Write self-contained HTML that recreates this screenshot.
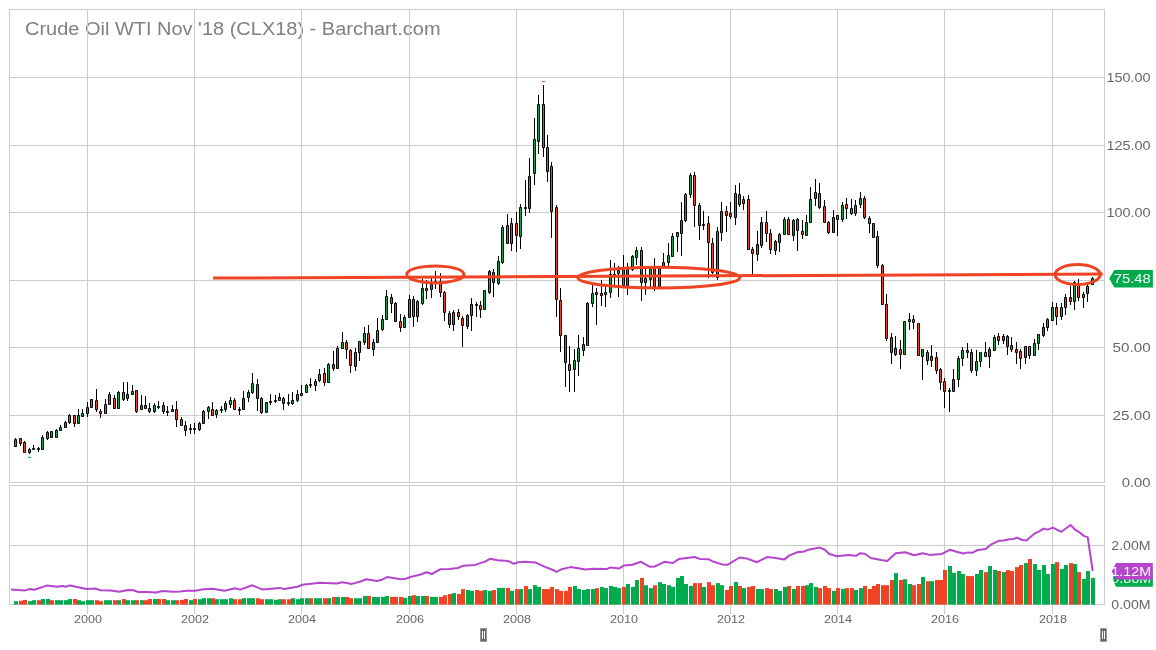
<!DOCTYPE html>
<html><head><meta charset="utf-8"><style>
html,body{margin:0;padding:0;background:#fff;width:1156px;height:650px;overflow:hidden}
svg text{font-family:"Liberation Sans",sans-serif} svg{will-change:transform}
</style></head><body>
<svg width="1156" height="650" viewBox="0 0 1156 650" style="position:absolute;left:0;top:0"><rect width="1156" height="650" fill="#fff"/><text x="25" y="35" font-size="18" fill="#808080" textLength="415.6" lengthAdjust="spacingAndGlyphs">Crude Oil WTI Nov '18 (CLX18) - Barchart.com</text><path d="M9 77.5H1105 M9 145.5H1105 M9 212.5H1105 M9 280.5H1105 M9 347.5H1105 M9 415.5H1105 M87.5 9V482 M87.5 485V614 M194.5 9V482 M194.5 485V614 M301.5 9V482 M301.5 485V614 M409.5 9V482 M409.5 485V614 M516.5 9V482 M516.5 485V614 M623.5 9V482 M623.5 485V614 M730.5 9V482 M730.5 485V614 M837.5 9V482 M837.5 485V614 M944.5 9V482 M944.5 485V614 M1052.5 9V482 M1052.5 485V614 M9.5 9V482.5M9 9.5H1105M1104.5 9V482.5M9 482.5H1105 M9.5 485V604.5M9 485.5H1105M1104.5 485V604.5M9 604.5H1105 M9 545.5H1105" stroke="#cccccc" stroke-width="1" fill="none"/><text x="1150.6" y="81.9" font-size="12.4" fill="#666" text-anchor="end" textLength="44.2" lengthAdjust="spacingAndGlyphs">150.00</text><text x="1150.6" y="149.9" font-size="12.4" fill="#666" text-anchor="end" textLength="44.2" lengthAdjust="spacingAndGlyphs">125.00</text><text x="1150.6" y="216.9" font-size="12.4" fill="#666" text-anchor="end" textLength="44.2" lengthAdjust="spacingAndGlyphs">100.00</text><text x="1150.6" y="284.9" font-size="12.4" fill="#666" text-anchor="end" textLength="38.0" lengthAdjust="spacingAndGlyphs">75.00</text><text x="1150.6" y="351.9" font-size="12.4" fill="#666" text-anchor="end" textLength="38.0" lengthAdjust="spacingAndGlyphs">50.00</text><text x="1150.6" y="419.9" font-size="12.4" fill="#666" text-anchor="end" textLength="38.0" lengthAdjust="spacingAndGlyphs">25.00</text><text x="1150.6" y="486.9" font-size="12.4" fill="#666" text-anchor="end" textLength="28.9" lengthAdjust="spacingAndGlyphs">0.00</text><text x="1150.6" y="549.8" font-size="12.4" fill="#666" text-anchor="end" textLength="39.3" lengthAdjust="spacingAndGlyphs">2.00M</text><text x="1150.6" y="608.8" font-size="12.4" fill="#666" text-anchor="end" textLength="39.3" lengthAdjust="spacingAndGlyphs">0.00M</text><text x="88" y="622.9" font-size="11" fill="#666" text-anchor="middle" textLength="28.1" lengthAdjust="spacingAndGlyphs">2000</text><text x="195" y="622.9" font-size="11" fill="#666" text-anchor="middle" textLength="28.1" lengthAdjust="spacingAndGlyphs">2002</text><text x="302" y="622.9" font-size="11" fill="#666" text-anchor="middle" textLength="28.1" lengthAdjust="spacingAndGlyphs">2004</text><text x="410" y="622.9" font-size="11" fill="#666" text-anchor="middle" textLength="28.1" lengthAdjust="spacingAndGlyphs">2006</text><text x="517" y="622.9" font-size="11" fill="#666" text-anchor="middle" textLength="28.1" lengthAdjust="spacingAndGlyphs">2008</text><text x="624" y="622.9" font-size="11" fill="#666" text-anchor="middle" textLength="28.1" lengthAdjust="spacingAndGlyphs">2010</text><text x="731" y="622.9" font-size="11" fill="#666" text-anchor="middle" textLength="28.1" lengthAdjust="spacingAndGlyphs">2012</text><text x="838" y="622.9" font-size="11" fill="#666" text-anchor="middle" textLength="28.1" lengthAdjust="spacingAndGlyphs">2014</text><text x="945" y="622.9" font-size="11" fill="#666" text-anchor="middle" textLength="28.1" lengthAdjust="spacingAndGlyphs">2016</text><text x="1053" y="622.9" font-size="11" fill="#666" text-anchor="middle" textLength="28.1" lengthAdjust="spacingAndGlyphs">2018</text><rect x="14" y="601.2" width="4" height="3.4" fill="#00ab4e"/><rect x="19" y="600.7" width="4" height="3.9" fill="#ee4423"/><rect x="23" y="599.9" width="4" height="4.7" fill="#ee4423"/><rect x="28" y="601.2" width="4" height="3.4" fill="#00ab4e"/><rect x="32" y="600.2" width="4" height="4.4" fill="#00ab4e"/><rect x="37" y="600.2" width="4" height="4.4" fill="#ee4423"/><rect x="41" y="599.0" width="4" height="5.6" fill="#00ab4e"/><rect x="46" y="599.0" width="4" height="5.6" fill="#00ab4e"/><rect x="50" y="600.2" width="4" height="4.4" fill="#ee4423"/><rect x="55" y="600.2" width="4" height="4.4" fill="#00ab4e"/><rect x="59" y="600.2" width="4" height="4.4" fill="#00ab4e"/><rect x="64" y="600.2" width="4" height="4.4" fill="#00ab4e"/><rect x="68" y="599.0" width="4" height="5.6" fill="#00ab4e"/><rect x="73" y="599.0" width="4" height="5.6" fill="#ee4423"/><rect x="77" y="600.2" width="4" height="4.4" fill="#00ab4e"/><rect x="81" y="601.2" width="4" height="3.4" fill="#00ab4e"/><rect x="86" y="600.2" width="4" height="4.4" fill="#00ab4e"/><rect x="90" y="600.2" width="4" height="4.4" fill="#00ab4e"/><rect x="95" y="600.2" width="4" height="4.4" fill="#ee4423"/><rect x="99" y="601.2" width="4" height="3.4" fill="#ee4423"/><rect x="104" y="600.2" width="4" height="4.4" fill="#00ab4e"/><rect x="108" y="600.2" width="4" height="4.4" fill="#00ab4e"/><rect x="113" y="600.2" width="4" height="4.4" fill="#ee4423"/><rect x="117" y="600.2" width="4" height="4.4" fill="#00ab4e"/><rect x="122" y="599.0" width="4" height="5.6" fill="#ee4423"/><rect x="126" y="600.2" width="4" height="4.4" fill="#00ab4e"/><rect x="131" y="600.2" width="4" height="4.4" fill="#00ab4e"/><rect x="135" y="600.2" width="4" height="4.4" fill="#ee4423"/><rect x="140" y="600.2" width="4" height="4.4" fill="#00ab4e"/><rect x="144" y="600.2" width="4" height="4.4" fill="#ee4423"/><rect x="148" y="599.0" width="4" height="5.6" fill="#ee4423"/><rect x="153" y="599.0" width="4" height="5.6" fill="#00ab4e"/><rect x="157" y="599.0" width="4" height="5.6" fill="#ee4423"/><rect x="162" y="599.0" width="4" height="5.6" fill="#ee4423"/><rect x="166" y="600.2" width="4" height="4.4" fill="#00ab4e"/><rect x="171" y="600.2" width="4" height="4.4" fill="#00ab4e"/><rect x="175" y="600.2" width="4" height="4.4" fill="#ee4423"/><rect x="180" y="599.9" width="4" height="4.7" fill="#ee4423"/><rect x="184" y="599.0" width="4" height="5.6" fill="#ee4423"/><rect x="189" y="600.2" width="4" height="4.4" fill="#00ab4e"/><rect x="193" y="599.0" width="4" height="5.6" fill="#ee4423"/><rect x="198" y="599.2" width="4" height="5.4" fill="#00ab4e"/><rect x="202" y="598.2" width="4" height="6.4" fill="#00ab4e"/><rect x="207" y="598.2" width="4" height="6.4" fill="#00ab4e"/><rect x="211" y="598.2" width="4" height="6.4" fill="#ee4423"/><rect x="215" y="599.2" width="4" height="5.4" fill="#00ab4e"/><rect x="220" y="599.2" width="4" height="5.4" fill="#00ab4e"/><rect x="224" y="599.2" width="4" height="5.4" fill="#00ab4e"/><rect x="229" y="598.2" width="4" height="6.4" fill="#00ab4e"/><rect x="233" y="599.2" width="4" height="5.4" fill="#ee4423"/><rect x="238" y="599.2" width="4" height="5.4" fill="#ee4423"/><rect x="242" y="598.2" width="4" height="6.4" fill="#00ab4e"/><rect x="247" y="598.2" width="4" height="6.4" fill="#00ab4e"/><rect x="251" y="598.2" width="4" height="6.4" fill="#00ab4e"/><rect x="256" y="598.2" width="4" height="6.4" fill="#ee4423"/><rect x="260" y="599.2" width="4" height="5.4" fill="#ee4423"/><rect x="265" y="599.2" width="4" height="5.4" fill="#00ab4e"/><rect x="269" y="599.2" width="4" height="5.4" fill="#00ab4e"/><rect x="274" y="599.8" width="4" height="4.8" fill="#00ab4e"/><rect x="278" y="599.2" width="4" height="5.4" fill="#00ab4e"/><rect x="282" y="599.2" width="4" height="5.4" fill="#ee4423"/><rect x="287" y="599.2" width="4" height="5.4" fill="#ee4423"/><rect x="291" y="598.2" width="4" height="6.4" fill="#00ab4e"/><rect x="296" y="599.2" width="4" height="5.4" fill="#00ab4e"/><rect x="300" y="598.2" width="4" height="6.4" fill="#00ab4e"/><rect x="305" y="598.2" width="4" height="6.4" fill="#00ab4e"/><rect x="309" y="598.2" width="4" height="6.4" fill="#ee4423"/><rect x="314" y="598.2" width="4" height="6.4" fill="#00ab4e"/><rect x="318" y="598.2" width="4" height="6.4" fill="#00ab4e"/><rect x="323" y="598.2" width="4" height="6.4" fill="#ee4423"/><rect x="327" y="598.2" width="4" height="6.4" fill="#00ab4e"/><rect x="332" y="597.0" width="4" height="7.6" fill="#ee4423"/><rect x="336" y="597.0" width="4" height="7.6" fill="#00ab4e"/><rect x="341" y="597.0" width="4" height="7.6" fill="#00ab4e"/><rect x="345" y="597.0" width="4" height="7.6" fill="#ee4423"/><rect x="349" y="598.2" width="4" height="6.4" fill="#ee4423"/><rect x="354" y="598.2" width="4" height="6.4" fill="#00ab4e"/><rect x="358" y="598.2" width="4" height="6.4" fill="#00ab4e"/><rect x="363" y="595.9" width="4" height="8.7" fill="#00ab4e"/><rect x="367" y="595.9" width="4" height="8.7" fill="#ee4423"/><rect x="372" y="597.0" width="4" height="7.6" fill="#00ab4e"/><rect x="376" y="597.0" width="4" height="7.6" fill="#00ab4e"/><rect x="381" y="596.9" width="4" height="7.7" fill="#00ab4e"/><rect x="385" y="596.0" width="4" height="8.6" fill="#00ab4e"/><rect x="390" y="596.9" width="4" height="7.7" fill="#ee4423"/><rect x="394" y="596.9" width="4" height="7.7" fill="#ee4423"/><rect x="399" y="596.9" width="4" height="7.7" fill="#ee4423"/><rect x="403" y="597.8" width="4" height="6.8" fill="#00ab4e"/><rect x="408" y="596.0" width="4" height="8.6" fill="#00ab4e"/><rect x="412" y="595.2" width="4" height="9.4" fill="#ee4423"/><rect x="416" y="596.0" width="4" height="8.6" fill="#00ab4e"/><rect x="421" y="596.0" width="4" height="8.6" fill="#00ab4e"/><rect x="425" y="596.0" width="4" height="8.6" fill="#ee4423"/><rect x="430" y="596.9" width="4" height="7.7" fill="#00ab4e"/><rect x="434" y="596.9" width="4" height="7.7" fill="#00ab4e"/><rect x="439" y="596.9" width="4" height="7.7" fill="#ee4423"/><rect x="443" y="595.2" width="4" height="9.4" fill="#ee4423"/><rect x="448" y="594.0" width="4" height="10.6" fill="#ee4423"/><rect x="452" y="593.1" width="4" height="11.5" fill="#00ab4e"/><rect x="457" y="594.0" width="4" height="10.6" fill="#ee4423"/><rect x="461" y="589.1" width="4" height="15.5" fill="#ee4423"/><rect x="466" y="590.0" width="4" height="14.6" fill="#00ab4e"/><rect x="470" y="590.8" width="4" height="13.8" fill="#00ab4e"/><rect x="475" y="590.0" width="4" height="14.6" fill="#ee4423"/><rect x="479" y="590.8" width="4" height="13.8" fill="#ee4423"/><rect x="483" y="590.0" width="4" height="14.6" fill="#00ab4e"/><rect x="488" y="590.8" width="4" height="13.8" fill="#00ab4e"/><rect x="492" y="590.0" width="4" height="14.6" fill="#ee4423"/><rect x="497" y="587.9" width="4" height="16.7" fill="#00ab4e"/><rect x="501" y="587.9" width="4" height="16.7" fill="#00ab4e"/><rect x="506" y="587.9" width="4" height="16.7" fill="#ee4423"/><rect x="510" y="590.8" width="4" height="13.8" fill="#00ab4e"/><rect x="515" y="589.1" width="4" height="15.5" fill="#ee4423"/><rect x="519" y="589.1" width="4" height="15.5" fill="#00ab4e"/><rect x="524" y="586.0" width="4" height="18.6" fill="#ee4423"/><rect x="528" y="589.1" width="4" height="15.5" fill="#00ab4e"/><rect x="533" y="585.1" width="4" height="19.5" fill="#00ab4e"/><rect x="537" y="586.9" width="4" height="17.7" fill="#00ab4e"/><rect x="542" y="589.1" width="4" height="15.5" fill="#ee4423"/><rect x="546" y="589.1" width="4" height="15.5" fill="#ee4423"/><rect x="550" y="586.9" width="4" height="17.7" fill="#ee4423"/><rect x="555" y="589.1" width="4" height="15.5" fill="#ee4423"/><rect x="559" y="590.8" width="4" height="13.8" fill="#ee4423"/><rect x="564" y="590.8" width="4" height="13.8" fill="#ee4423"/><rect x="568" y="586.9" width="4" height="17.7" fill="#ee4423"/><rect x="573" y="586.0" width="4" height="18.6" fill="#00ab4e"/><rect x="577" y="589.0" width="4" height="15.6" fill="#00ab4e"/><rect x="582" y="590.0" width="4" height="14.6" fill="#00ab4e"/><rect x="586" y="589.0" width="4" height="15.6" fill="#00ab4e"/><rect x="591" y="589.0" width="4" height="15.6" fill="#00ab4e"/><rect x="595" y="588.1" width="4" height="16.5" fill="#ee4423"/><rect x="600" y="586.9" width="4" height="17.7" fill="#00ab4e"/><rect x="604" y="588.1" width="4" height="16.5" fill="#00ab4e"/><rect x="609" y="586.0" width="4" height="18.6" fill="#00ab4e"/><rect x="613" y="586.9" width="4" height="17.7" fill="#00ab4e"/><rect x="617" y="588.1" width="4" height="16.5" fill="#00ab4e"/><rect x="622" y="586.9" width="4" height="17.7" fill="#ee4423"/><rect x="626" y="584.0" width="4" height="20.6" fill="#00ab4e"/><rect x="631" y="586.9" width="4" height="17.7" fill="#00ab4e"/><rect x="635" y="580.0" width="4" height="24.6" fill="#00ab4e"/><rect x="640" y="577.9" width="4" height="26.7" fill="#ee4423"/><rect x="644" y="585.2" width="4" height="19.4" fill="#00ab4e"/><rect x="649" y="588.1" width="4" height="16.5" fill="#00ab4e"/><rect x="653" y="585.2" width="4" height="19.4" fill="#ee4423"/><rect x="658" y="582.1" width="4" height="22.5" fill="#00ab4e"/><rect x="662" y="584.0" width="4" height="20.6" fill="#00ab4e"/><rect x="667" y="585.2" width="4" height="19.4" fill="#00ab4e"/><rect x="671" y="586.9" width="4" height="17.7" fill="#00ab4e"/><rect x="676" y="577.9" width="4" height="26.7" fill="#00ab4e"/><rect x="680" y="576.0" width="4" height="28.6" fill="#00ab4e"/><rect x="684" y="584.0" width="4" height="20.6" fill="#00ab4e"/><rect x="689" y="586.0" width="4" height="18.6" fill="#00ab4e"/><rect x="693" y="583.1" width="4" height="21.5" fill="#ee4423"/><rect x="698" y="583.1" width="4" height="21.5" fill="#ee4423"/><rect x="702" y="586.9" width="4" height="17.7" fill="#00ab4e"/><rect x="707" y="582.1" width="4" height="22.5" fill="#ee4423"/><rect x="711" y="585.2" width="4" height="19.4" fill="#ee4423"/><rect x="716" y="583.1" width="4" height="21.5" fill="#00ab4e"/><rect x="720" y="585.2" width="4" height="19.4" fill="#00ab4e"/><rect x="725" y="590.0" width="4" height="14.6" fill="#ee4423"/><rect x="729" y="586.0" width="4" height="18.6" fill="#ee4423"/><rect x="734" y="582.1" width="4" height="22.5" fill="#00ab4e"/><rect x="738" y="586.0" width="4" height="18.6" fill="#ee4423"/><rect x="742" y="588.1" width="4" height="16.5" fill="#00ab4e"/><rect x="747" y="586.9" width="4" height="17.7" fill="#ee4423"/><rect x="751" y="586.0" width="4" height="18.6" fill="#ee4423"/><rect x="756" y="589.0" width="4" height="15.6" fill="#00ab4e"/><rect x="760" y="589.0" width="4" height="15.6" fill="#00ab4e"/><rect x="765" y="588.1" width="4" height="16.5" fill="#ee4423"/><rect x="769" y="589.0" width="4" height="15.6" fill="#ee4423"/><rect x="774" y="589.0" width="4" height="15.6" fill="#00ab4e"/><rect x="778" y="590.9" width="4" height="13.7" fill="#00ab4e"/><rect x="783" y="586.9" width="4" height="17.7" fill="#00ab4e"/><rect x="787" y="586.0" width="4" height="18.6" fill="#ee4423"/><rect x="792" y="589.0" width="4" height="15.6" fill="#00ab4e"/><rect x="796" y="586.0" width="4" height="18.6" fill="#ee4423"/><rect x="801" y="586.0" width="4" height="18.6" fill="#ee4423"/><rect x="805" y="585.2" width="4" height="19.4" fill="#00ab4e"/><rect x="809" y="583.1" width="4" height="21.5" fill="#00ab4e"/><rect x="814" y="586.9" width="4" height="17.7" fill="#00ab4e"/><rect x="818" y="588.1" width="4" height="16.5" fill="#ee4423"/><rect x="823" y="586.0" width="4" height="18.6" fill="#ee4423"/><rect x="827" y="588.1" width="4" height="16.5" fill="#ee4423"/><rect x="832" y="590.9" width="4" height="13.7" fill="#00ab4e"/><rect x="836" y="588.1" width="4" height="16.5" fill="#ee4423"/><rect x="841" y="589.0" width="4" height="15.6" fill="#00ab4e"/><rect x="845" y="588.1" width="4" height="16.5" fill="#ee4423"/><rect x="850" y="588.1" width="4" height="16.5" fill="#ee4423"/><rect x="854" y="590.0" width="4" height="14.6" fill="#00ab4e"/><rect x="859" y="588.1" width="4" height="16.5" fill="#00ab4e"/><rect x="863" y="586.0" width="4" height="18.6" fill="#ee4423"/><rect x="868" y="589.0" width="4" height="15.6" fill="#ee4423"/><rect x="872" y="586.0" width="4" height="18.6" fill="#ee4423"/><rect x="876" y="584.0" width="4" height="20.6" fill="#ee4423"/><rect x="881" y="585.2" width="4" height="19.4" fill="#ee4423"/><rect x="885" y="585.2" width="4" height="19.4" fill="#ee4423"/><rect x="890" y="580.0" width="4" height="24.6" fill="#ee4423"/><rect x="894" y="573.1" width="4" height="31.5" fill="#00ab4e"/><rect x="899" y="580.0" width="4" height="24.6" fill="#ee4423"/><rect x="903" y="579.1" width="4" height="25.5" fill="#00ab4e"/><rect x="908" y="584.0" width="4" height="20.6" fill="#00ab4e"/><rect x="912" y="585.2" width="4" height="19.4" fill="#ee4423"/><rect x="917" y="584.0" width="4" height="20.6" fill="#ee4423"/><rect x="921" y="576.9" width="4" height="27.7" fill="#00ab4e"/><rect x="926" y="581.2" width="4" height="23.4" fill="#ee4423"/><rect x="930" y="581.2" width="4" height="23.4" fill="#00ab4e"/><rect x="935" y="580.0" width="4" height="24.6" fill="#ee4423"/><rect x="939" y="580.0" width="4" height="24.6" fill="#ee4423"/><rect x="943" y="570.0" width="4" height="34.6" fill="#ee4423"/><rect x="948" y="566.0" width="4" height="38.6" fill="#00ab4e"/><rect x="952" y="572.8" width="4" height="31.8" fill="#00ab4e"/><rect x="957" y="571.0" width="4" height="33.6" fill="#00ab4e"/><rect x="961" y="574.0" width="4" height="30.6" fill="#00ab4e"/><rect x="966" y="576.1" width="4" height="28.5" fill="#ee4423"/><rect x="970" y="576.1" width="4" height="28.5" fill="#ee4423"/><rect x="975" y="574.0" width="4" height="30.6" fill="#00ab4e"/><rect x="979" y="570.0" width="4" height="34.6" fill="#00ab4e"/><rect x="984" y="572.1" width="4" height="32.5" fill="#ee4423"/><rect x="988" y="566.0" width="4" height="38.6" fill="#00ab4e"/><rect x="993" y="570.0" width="4" height="34.6" fill="#00ab4e"/><rect x="997" y="571.0" width="4" height="33.6" fill="#ee4423"/><rect x="1002" y="572.1" width="4" height="32.5" fill="#00ab4e"/><rect x="1006" y="570.0" width="4" height="34.6" fill="#ee4423"/><rect x="1010" y="571.0" width="4" height="33.6" fill="#ee4423"/><rect x="1015" y="567.1" width="4" height="37.5" fill="#ee4423"/><rect x="1019" y="565.0" width="4" height="39.6" fill="#ee4423"/><rect x="1024" y="563.1" width="4" height="41.5" fill="#00ab4e"/><rect x="1028" y="559.0" width="4" height="45.6" fill="#ee4423"/><rect x="1033" y="564.0" width="4" height="40.6" fill="#00ab4e"/><rect x="1037" y="570.0" width="4" height="34.6" fill="#00ab4e"/><rect x="1042" y="565.0" width="4" height="39.6" fill="#00ab4e"/><rect x="1046" y="574.0" width="4" height="30.6" fill="#00ab4e"/><rect x="1051" y="564.0" width="4" height="40.6" fill="#00ab4e"/><rect x="1055" y="562.1" width="4" height="42.5" fill="#ee4423"/><rect x="1060" y="569.0" width="4" height="35.6" fill="#00ab4e"/><rect x="1064" y="565.0" width="4" height="39.6" fill="#00ab4e"/><rect x="1069" y="563.1" width="4" height="41.5" fill="#ee4423"/><rect x="1073" y="564.0" width="4" height="40.6" fill="#00ab4e"/><rect x="1077" y="572.1" width="4" height="32.5" fill="#ee4423"/><rect x="1082" y="579.0" width="4" height="25.6" fill="#00ab4e"/><rect x="1086" y="571.0" width="4" height="33.6" fill="#00ab4e"/><rect x="1091" y="577.8" width="4" height="26.8" fill="#00ab4e"/><polyline points="11.0,589.5 25.3,590.4 30.0,589.0 34.2,589.8 46.7,585.6 57.1,586.8 62.3,586.0 65.7,586.8 70.0,585.4 86.5,589.1 95.2,588.5 100.3,590.3 110.7,590.6 119.4,591.7 128.0,589.9 133.2,590.3 138.4,592.0 147.0,592.0 155.7,592.5 162.6,591.1 173.0,591.7 180.0,591.5 186.9,590.8 195.0,590.8 203.8,589.3 212.5,588.7 224.6,590.8 235.0,588.2 240.2,589.6 252.3,585.3 262.7,589.6 280.0,587.9 284.3,589.1 297.3,586.7 302.5,584.8 319.8,582.7 337.0,583.5 342.2,582.3 351.8,583.9 359.6,581.8 366.5,579.2 376.9,581.0 382.0,579.7 387.2,577.1 400.8,579.3 406.0,578.7 410.3,577.0 419.8,574.8 426.7,572.3 431.9,574.0 440.6,569.2 449.2,568.9 457.9,568.0 463.0,565.8 475.2,564.9 485.5,561.4 489.9,558.8 497.6,560.2 508.0,560.9 513.2,563.7 518.4,562.3 525.3,561.8 535.7,562.6 544.4,566.6 553.0,570.0 556.5,571.8 561.7,569.2 570.3,567.1 585.6,569.6 592.5,568.7 606.3,569.1 610.7,567.4 619.3,568.4 623.6,565.6 632.3,564.8 640.9,561.8 649.6,566.7 654.8,566.5 664.3,561.8 673.0,563.0 679.0,558.9 694.6,557.0 699.8,558.9 708.4,559.2 713.6,561.8 722.2,564.4 727.4,564.8 739.6,557.5 746.5,558.4 756.9,562.2 766.9,557.1 773.8,557.8 784.2,559.6 789.4,555.4 798.1,552.0 803.3,551.8 808.4,549.7 819.7,547.6 824.9,549.7 829.2,554.0 837.0,556.3 848.2,554.9 856.0,555.8 860.3,553.2 864.7,553.7 870.7,558.0 881.1,560.1 887.2,561.0 895.8,553.2 905.3,552.3 914.0,555.2 922.6,553.2 929.6,554.9 941.7,554.0 950.0,549.7 956.4,551.8 963.6,553.5 967.8,552.4 972.1,552.8 977.8,550.0 985.7,549.0 990.7,544.7 999.2,540.7 1003.5,540.4 1009.2,539.3 1013.5,539.0 1017.1,537.6 1022.1,540.0 1026.4,540.4 1034.9,533.3 1039.2,531.4 1043.5,528.6 1047.8,529.6 1052.8,527.6 1061.3,531.8 1070.6,525.0 1074.9,529.6 1079.2,532.1 1084.2,536.1 1087.7,537.1 1092.7,571.0" stroke="#b445cc" stroke-width="2" fill="none" stroke-linejoin="round"/><path d="M15.5 438V447 M20.5 438V446 M24.5 441V453 M29.5 448V454 M33.5 445V450 M38.5 447V452 M42.5 435V450 M47.5 431V440 M51.5 431V438 M56.5 429V438 M60.5 425V431 M65.5 421V428 M69.5 414V424 M74.5 415V427 M78.5 409V424 M82.5 409V417 M87.5 402V417 M91.5 399V408 M96.5 389V412 M100.5 409V418 M105.5 399V414 M109.5 392V405 M114.5 395V409 M118.5 391V409 M123.5 382V401 M127.5 382V401 M132.5 385V395 M136.5 390V413 M141.5 395V410 M145.5 396V409 M149.5 403V413 M154.5 403V413 M158.5 401V409 M163.5 402V414 M167.5 406V416 M172.5 405V412 M176.5 401V427 M181.5 417V426 M185.5 421V436 M190.5 424V434 M194.5 423V434 M199.5 422V431 M203.5 410V424 M208.5 406V419 M212.5 402V416 M216.5 409V418 M221.5 406V413 M225.5 401V412 M230.5 397V408 M234.5 398V410 M239.5 407V415 M243.5 391V410 M248.5 390V402 M252.5 373V394 M257.5 379V411 M261.5 397V414 M266.5 402V413 M270.5 394V405 M275.5 395V403 M279.5 393V401 M283.5 397V410 M288.5 394V406 M292.5 392V405 M297.5 390V402 M301.5 385V396 M306.5 384V393 M310.5 378V388 M315.5 379V391 M319.5 369V382 M324.5 368V386 M328.5 363V383 M333.5 351V371 M337.5 346V369 M342.5 332V349 M346.5 340V359 M350.5 349V373 M355.5 348V371 M359.5 341V361 M364.5 327V345 M368.5 325V349 M373.5 339V356 M377.5 318V343 M382.5 315V331 M386.5 290V320 M391.5 294V313 M395.5 302V322 M400.5 314V332 M404.5 315V328 M409.5 295V318 M413.5 296V327 M417.5 300V322 M422.5 279V305 M426.5 280V299 M431.5 276V298 M435.5 271V289 M440.5 273V297 M444.5 291V321 M449.5 311V328 M453.5 310V331 M458.5 309V320 M462.5 316V347 M467.5 314V329 M471.5 298V331 M476.5 302V317 M480.5 301V318 M484.5 290V310 M489.5 270V294 M493.5 269V297 M498.5 256V285 M502.5 225V264 M507.5 214V244 M511.5 218V251 M516.5 212V252 M520.5 204V249 M525.5 180V216 M529.5 158V213 M534.5 118V185 M538.5 95V154 M543.5 85V157 M547.5 135V182 M551.5 162V238 M556.5 205V317 M560.5 288V352 M565.5 335V387 M569.5 346V392 M574.5 349V392 M578.5 335V376 M583.5 337V356 M587.5 302V346 M592.5 285V307 M596.5 288V325 M601.5 280V306 M605.5 287V307 M610.5 260V298 M614.5 263V286 M618.5 266V297 M623.5 255V286 M627.5 263V295 M632.5 255V271 M636.5 247V265 M641.5 247V301 M645.5 268V295 M650.5 268V287 M654.5 258V291 M659.5 268V288 M663.5 253V268 M668.5 243V266 M672.5 233V257 M677.5 232V252 M681.5 202V256 M685.5 193V222 M690.5 173V198 M694.5 172V227 M699.5 203V240 M703.5 211V230 M708.5 216V278 M712.5 238V274 M717.5 227V280 M721.5 202V241 M726.5 206V232 M730.5 202V219 M735.5 185V225 M739.5 183V207 M743.5 196V210 M748.5 195V250 M752.5 247V274 M757.5 231V261 M761.5 217V248 M766.5 211V242 M770.5 229V254 M775.5 240V255 M779.5 233V252 M784.5 217V235 M788.5 217V235 M793.5 219V241 M797.5 218V251 M802.5 220V239 M806.5 215V236 M810.5 187V223 M815.5 179V206 M819.5 183V209 M824.5 200V223 M828.5 221V234 M833.5 210V233 M837.5 215V236 M842.5 202V222 M846.5 198V219 M851.5 199V215 M855.5 200V216 M860.5 192V208 M864.5 196V219 M869.5 216V233 M873.5 223V238 M877.5 231V268 M882.5 264V305 M886.5 294V341 M891.5 333V364 M895.5 336V356 M900.5 340V369 M904.5 321V355 M909.5 313V330 M913.5 315V329 M918.5 323V356 M922.5 349V380 M927.5 350V365 M931.5 345V367 M936.5 352V374 M940.5 368V390 M944.5 378V408 M949.5 388V412 M953.5 369V392 M958.5 356V387 M962.5 347V366 M967.5 343V358 M971.5 349V373 M976.5 350V376 M980.5 352V367 M985.5 342V357 M989.5 347V368 M994.5 335V351 M998.5 333V345 M1003.5 334V344 M1007.5 335V355 M1011.5 337V352 M1016.5 342V364 M1020.5 349V369 M1025.5 346V364 M1029.5 346V359 M1034.5 339V356 M1038.5 334V350 M1043.5 323V337 M1047.5 318V331 M1052.5 302V321 M1056.5 303V325 M1061.5 303V320 M1065.5 294V315 M1070.5 286V305 M1074.5 281V310 M1078.5 279V301 M1083.5 292V308 M1087.5 285V302 M1092.5 277V285" stroke="#000" stroke-width="1" fill="none"/><path d="M14.5 439.5h2v7h-2ZM28.5 449.5h2v3h-2ZM32.5 448.5h2v1h-2ZM41.5 437.5h2v12h-2ZM46.5 432.5h2v6h-2ZM55.5 430.5h2v7h-2ZM59.5 427.5h2v3h-2ZM64.5 422.5h2v5h-2ZM68.5 415.5h2v7h-2ZM77.5 415.5h2v8h-2ZM81.5 413.5h2v3h-2ZM86.5 407.5h2v6h-2ZM90.5 399.5h2v8h-2ZM104.5 404.5h2v9h-2ZM108.5 394.5h2v10h-2ZM117.5 392.5h2v16h-2ZM126.5 394.5h2v4h-2ZM131.5 391.5h2v3h-2ZM140.5 405.5h2v4h-2ZM153.5 405.5h2v6h-2ZM166.5 411.5h2v1h-2ZM171.5 409.5h2v2h-2ZM189.5 428.5h2v1h-2ZM198.5 423.5h2v6h-2ZM202.5 411.5h2v12h-2ZM207.5 407.5h2v4h-2ZM215.5 410.5h2v4h-2ZM220.5 409.5h2v1h-2ZM224.5 403.5h2v6h-2ZM229.5 400.5h2v4h-2ZM242.5 398.5h2v11h-2ZM247.5 392.5h2v5h-2ZM251.5 383.5h2v9h-2ZM265.5 402.5h2v10h-2ZM269.5 401.5h2v1h-2ZM274.5 400.5h2v1h-2ZM278.5 397.5h2v3h-2ZM291.5 400.5h2v3h-2ZM296.5 394.5h2v6h-2ZM300.5 393.5h2v2h-2ZM305.5 385.5h2v7h-2ZM314.5 381.5h2v4h-2ZM318.5 374.5h2v6h-2ZM327.5 364.5h2v18h-2ZM336.5 348.5h2v20h-2ZM341.5 342.5h2v6h-2ZM354.5 352.5h2v14h-2ZM358.5 341.5h2v11h-2ZM363.5 333.5h2v9h-2ZM372.5 342.5h2v7h-2ZM376.5 330.5h2v12h-2ZM381.5 319.5h2v10h-2ZM385.5 296.5h2v23h-2ZM403.5 317.5h2v10h-2ZM408.5 299.5h2v18h-2ZM416.5 301.5h2v15h-2ZM421.5 288.5h2v15h-2ZM430.5 284.5h2v5h-2ZM434.5 281.5h2v1h-2ZM452.5 312.5h2v12h-2ZM466.5 315.5h2v11h-2ZM470.5 304.5h2v11h-2ZM483.5 290.5h2v19h-2ZM488.5 271.5h2v21h-2ZM497.5 261.5h2v22h-2ZM501.5 227.5h2v35h-2ZM510.5 223.5h2v20h-2ZM519.5 207.5h2v29h-2ZM528.5 176.5h2v32h-2ZM533.5 139.5h2v34h-2ZM537.5 104.5h2v37h-2ZM573.5 360.5h2v9h-2ZM577.5 348.5h2v13h-2ZM582.5 344.5h2v6h-2ZM586.5 303.5h2v42h-2ZM591.5 293.5h2v10h-2ZM600.5 293.5h2v2h-2ZM604.5 292.5h2v2h-2ZM609.5 274.5h2v18h-2ZM613.5 274.5h2v1h-2ZM617.5 270.5h2v3h-2ZM626.5 268.5h2v17h-2ZM631.5 256.5h2v13h-2ZM635.5 250.5h2v7h-2ZM644.5 278.5h2v4h-2ZM649.5 268.5h2v11h-2ZM658.5 268.5h2v18h-2ZM662.5 262.5h2v5h-2ZM667.5 255.5h2v7h-2ZM671.5 236.5h2v20h-2ZM676.5 232.5h2v4h-2ZM680.5 220.5h2v13h-2ZM684.5 194.5h2v26h-2ZM689.5 175.5h2v19h-2ZM702.5 224.5h2v1h-2ZM716.5 231.5h2v46h-2ZM720.5 211.5h2v21h-2ZM734.5 193.5h2v24h-2ZM742.5 199.5h2v4h-2ZM756.5 244.5h2v10h-2ZM760.5 222.5h2v23h-2ZM774.5 241.5h2v9h-2ZM778.5 234.5h2v8h-2ZM783.5 219.5h2v15h-2ZM792.5 220.5h2v15h-2ZM805.5 222.5h2v13h-2ZM809.5 199.5h2v23h-2ZM814.5 192.5h2v6h-2ZM832.5 217.5h2v15h-2ZM841.5 205.5h2v14h-2ZM854.5 205.5h2v8h-2ZM859.5 198.5h2v6h-2ZM894.5 348.5h2v6h-2ZM903.5 321.5h2v33h-2ZM908.5 319.5h2v2h-2ZM921.5 349.5h2v7h-2ZM930.5 356.5h2v4h-2ZM948.5 390.5h2v1h-2ZM952.5 379.5h2v12h-2ZM957.5 358.5h2v21h-2ZM961.5 350.5h2v8h-2ZM975.5 361.5h2v9h-2ZM979.5 352.5h2v9h-2ZM988.5 349.5h2v7h-2ZM993.5 337.5h2v13h-2ZM1002.5 336.5h2v4h-2ZM1024.5 346.5h2v11h-2ZM1033.5 343.5h2v12h-2ZM1037.5 334.5h2v9h-2ZM1042.5 327.5h2v8h-2ZM1046.5 319.5h2v8h-2ZM1051.5 307.5h2v13h-2ZM1060.5 307.5h2v9h-2ZM1064.5 297.5h2v10h-2ZM1073.5 282.5h2v19h-2ZM1082.5 294.5h2v3h-2ZM1086.5 286.5h2v7h-2ZM1091.5 278.5h2v6h-2Z" fill="#00ab4e" stroke="#000" stroke-width="1"/><path d="M19.5 438.5h2v5h-2ZM23.5 442.5h2v10h-2ZM37.5 448.5h2v1h-2ZM50.5 431.5h2v6h-2ZM73.5 415.5h2v8h-2ZM95.5 400.5h2v9h-2ZM99.5 411.5h2v2h-2ZM113.5 398.5h2v10h-2ZM122.5 392.5h2v7h-2ZM135.5 390.5h2v21h-2ZM144.5 405.5h2v3h-2ZM148.5 408.5h2v3h-2ZM157.5 406.5h2v1h-2ZM162.5 405.5h2v6h-2ZM175.5 409.5h2v10h-2ZM180.5 419.5h2v6h-2ZM184.5 425.5h2v5h-2ZM193.5 428.5h2v1h-2ZM211.5 409.5h2v6h-2ZM233.5 400.5h2v9h-2ZM238.5 409.5h2v1h-2ZM256.5 384.5h2v14h-2ZM260.5 398.5h2v14h-2ZM282.5 398.5h2v5h-2ZM287.5 402.5h2v1h-2ZM309.5 384.5h2v1h-2ZM323.5 373.5h2v9h-2ZM332.5 364.5h2v4h-2ZM345.5 342.5h2v7h-2ZM349.5 350.5h2v15h-2ZM367.5 333.5h2v15h-2ZM390.5 297.5h2v6h-2ZM394.5 303.5h2v18h-2ZM399.5 321.5h2v6h-2ZM412.5 299.5h2v17h-2ZM425.5 288.5h2v2h-2ZM439.5 281.5h2v11h-2ZM443.5 292.5h2v20h-2ZM448.5 313.5h2v11h-2ZM457.5 312.5h2v4h-2ZM461.5 318.5h2v7h-2ZM475.5 304.5h2v1h-2ZM479.5 305.5h2v4h-2ZM492.5 272.5h2v10h-2ZM506.5 225.5h2v18h-2ZM515.5 223.5h2v12h-2ZM524.5 207.5h2v1h-2ZM542.5 104.5h2v43h-2ZM546.5 147.5h2v24h-2ZM550.5 166.5h2v45h-2ZM555.5 207.5h2v92h-2ZM559.5 300.5h2v35h-2ZM564.5 335.5h2v27h-2ZM568.5 364.5h2v6h-2ZM595.5 292.5h2v2h-2ZM622.5 269.5h2v16h-2ZM640.5 250.5h2v32h-2ZM653.5 268.5h2v18h-2ZM693.5 175.5h2v30h-2ZM698.5 205.5h2v20h-2ZM707.5 223.5h2v19h-2ZM711.5 243.5h2v29h-2ZM725.5 211.5h2v4h-2ZM729.5 213.5h2v3h-2ZM738.5 194.5h2v10h-2ZM747.5 199.5h2v50h-2ZM751.5 249.5h2v4h-2ZM765.5 222.5h2v11h-2ZM769.5 233.5h2v16h-2ZM787.5 219.5h2v15h-2ZM796.5 219.5h2v11h-2ZM801.5 231.5h2v3h-2ZM818.5 193.5h2v14h-2ZM823.5 206.5h2v16h-2ZM827.5 222.5h2v10h-2ZM836.5 215.5h2v4h-2ZM845.5 204.5h2v4h-2ZM850.5 208.5h2v5h-2ZM863.5 198.5h2v19h-2ZM868.5 218.5h2v5h-2ZM872.5 223.5h2v14h-2ZM876.5 236.5h2v29h-2ZM881.5 265.5h2v39h-2ZM885.5 304.5h2v34h-2ZM890.5 337.5h2v15h-2ZM899.5 349.5h2v5h-2ZM912.5 319.5h2v3h-2ZM917.5 323.5h2v32h-2ZM926.5 352.5h2v8h-2ZM935.5 357.5h2v13h-2ZM939.5 369.5h2v13h-2ZM943.5 381.5h2v10h-2ZM966.5 350.5h2v2h-2ZM970.5 352.5h2v18h-2ZM984.5 352.5h2v4h-2ZM997.5 336.5h2v4h-2ZM1006.5 336.5h2v10h-2ZM1010.5 345.5h2v4h-2ZM1015.5 349.5h2v3h-2ZM1019.5 351.5h2v7h-2ZM1028.5 346.5h2v9h-2ZM1055.5 307.5h2v9h-2ZM1069.5 297.5h2v4h-2ZM1077.5 284.5h2v13h-2Z" fill="#ee4423" stroke="#000" stroke-width="1"/><path d="M213 278.1L1102.7 274.1" stroke="#ee4423" stroke-width="3" fill="none"/><ellipse cx="435.3" cy="274.4" rx="28.6" ry="8.5" stroke="#ee4423" stroke-width="3" fill="none"/><ellipse cx="658.8" cy="277.7" rx="81" ry="10.4" stroke="#ee4423" stroke-width="3" fill="none"/><ellipse cx="1077.6" cy="274.6" rx="22.6" ry="10" stroke="#ee4423" stroke-width="3" fill="none"/><path d="M542 81.5h3" stroke="#ee4423" stroke-width="1"/><path d="M28 457.4h3" stroke="#00ab4e" stroke-width="1"/><path d="M1109.2 278.6L1114.3 270.1H1152.9V287.4H1114.3Z" fill="#00ab4e"/><text x="1150.8" y="282.9" font-size="12.4" fill="#fff" text-anchor="end" textLength="37" lengthAdjust="spacingAndGlyphs">75.48</text><path d="M1111.7 578.4L1116.1 570.1H1152.8V586.7H1116.1Z" fill="#00ab4e"/><text x="1151.2" y="582.7" font-size="12.4" fill="#fff" text-anchor="end" textLength="39.85" lengthAdjust="spacingAndGlyphs">0.86M</text><path d="M1111.7 571.3L1116.1 563H1152.8V579.6H1116.1Z" fill="#b445cc"/><text x="1151.2" y="575.6" font-size="12.4" fill="#fff" text-anchor="end" textLength="39.85" lengthAdjust="spacingAndGlyphs">1.12M</text><rect x="480.5" y="628.5" width="6" height="13" fill="#666" stroke="#999" stroke-width="1"/><path d="M482.5 631V639M484.5 631V639" stroke="#fff" stroke-width="1"/><rect x="1100.5" y="628.5" width="6" height="13" fill="#666" stroke="#999" stroke-width="1"/><path d="M1102.5 631V639M1104.5 631V639" stroke="#fff" stroke-width="1"/></svg>
</body></html>
